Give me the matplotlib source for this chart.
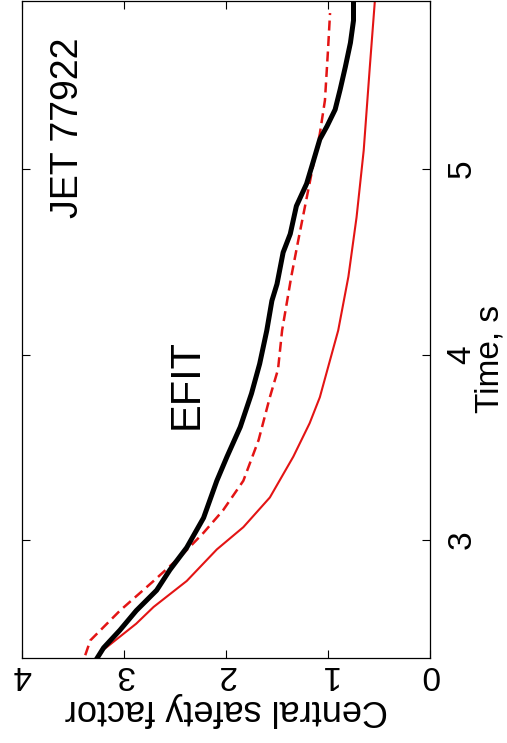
import matplotlib.pyplot as plt

plt.rcParams['font.family'] = ['Liberation Sans', 'DejaVu Sans']

# time (s) and central safety factor
t_black = [2.35, 2.42, 2.515, 2.62, 2.73, 2.84, 2.96, 3.12, 3.32, 3.45, 3.61, 3.79, 3.95, 4.13,
           4.29, 4.38, 4.55, 4.65, 4.80, 4.92, 5.03, 5.16, 5.23, 5.32, 5.43, 5.55, 5.68, 5.80, 5.91]
q_black = [3.28, 3.20, 3.04, 2.88, 2.68, 2.55, 2.385, 2.22, 2.09, 1.99, 1.86, 1.75, 1.67, 1.60,
           1.55, 1.50, 1.44, 1.37, 1.31, 1.21, 1.15, 1.08, 1.01, 0.93, 0.88, 0.83, 0.78, 0.75, 0.75]

t_dash = [2.38, 2.46, 2.62, 2.78, 2.91, 3.04, 3.16, 3.32, 3.54, 3.77, 3.92, 4.13,
          4.42, 4.62, 4.80, 4.98, 5.19, 5.37, 5.64, 5.84]
q_dash = [3.38, 3.33, 3.04, 2.71, 2.45, 2.22, 2.03, 1.83, 1.68, 1.57, 1.49, 1.45,
          1.36, 1.29, 1.225, 1.16, 1.08, 1.03, 1.00, 0.98]

t_solid = [2.35, 2.41, 2.55, 2.64, 2.78, 2.95, 3.07, 3.23, 3.45, 3.63, 3.77, 4.13,
           4.42, 4.74, 5.10, 5.55, 5.91]
q_solid = [3.27, 3.20, 2.88, 2.71, 2.385, 2.09, 1.83, 1.57, 1.34, 1.18, 1.08, 0.90,
           0.80, 0.72, 0.65, 0.59, 0.54]

q_ticks = [0, 1, 2, 3, 4]
t_ticks = [3, 4, 5]

fig = plt.figure(figsize=(5.07, 7.43), dpi=100)
ax = fig.add_axes([22/507, 85/743, 408/507, 657/743])

# the chart is drawn turned a quarter turn: time runs upward
ax.plot(q_solid, t_solid, color='#e31414', lw=1.5)
ax.plot(q_dash, t_dash, color='#e31414', lw=1.8, dashes=(4, 2.2))
ax.plot(q_black, t_black, color='black', lw=3.6)

ax.set_xlim(4, 0)
ax.set_ylim(2.365, 5.905)
ax.set_xticks(q_ticks)
ax.set_xticklabels([str(v) for v in q_ticks], rotation=180)
ax.set_yticks(t_ticks)
ax.set_yticklabels([str(v) for v in t_ticks], rotation=90, va='center')

ax.tick_params(axis='x', direction='in', top=True, bottom=True, length=6, width=0.8, labelsize=24, pad=1)
ax.tick_params(axis='y', direction='in', left=True, right=True, labelleft=False, labelright=True,
               length=6, width=0.8, labelsize=24, pad=12)
for s in ax.spines.values():
    s.set_linewidth(0.9)

ax.set_xlabel('Central safety factor', rotation=180, fontsize=26, labelpad=1)
ax.yaxis.set_label_position('right')
ax.set_ylabel('Time, s', rotation=90, fontsize=24, ha='center', va='center')
ax.yaxis.set_label_coords(1.148, 0.455)

ax.text(3.55, 5.22, 'JET 77922', rotation=90, fontsize=27, ha='center', va='center')
ax.text(2.39, 3.84, 'EFIT', rotation=90, fontsize=30, ha='center', va='center')

fig.savefig('out.png', dpi=100)
